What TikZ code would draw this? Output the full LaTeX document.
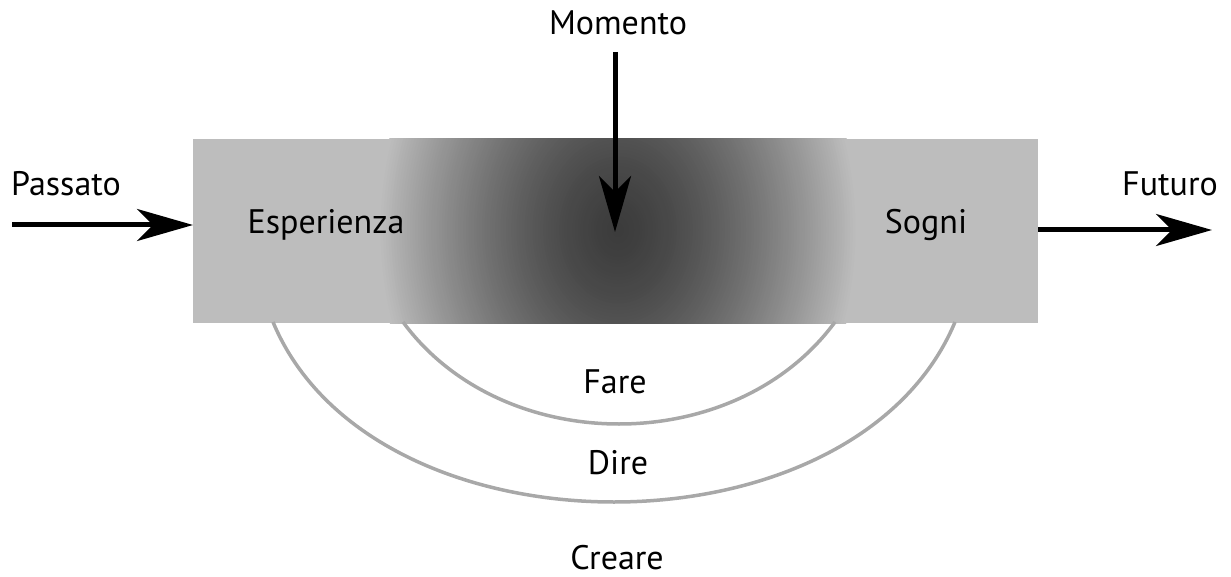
\documentclass[tikz,border=0pt]{standalone}
\usepackage{fontspec}
\setmainfont{PT Sans}
\usetikzlibrary{arrows.meta}
\definecolor{boxgray}{HTML}{BDBDBD}
\definecolor{arcgray}{HTML}{A8A8A8}
\begin{document}
\begin{tikzpicture}[x=1pt,y=-1pt,
  lbl/.style={font=\fontsize{34}{40}\selectfont, anchor=base, inner sep=0pt},
  bigarrow/.style={line width=5pt, -{Stealth[length=56pt,width=32pt,inset=16pt]}},
  arcline/.style={draw=arcgray, line width=3.5pt}]
\useasboundingbox (0,0) rectangle (1231,577);
% main box
\node[fill=boxgray, minimum width=845pt, minimum height=184pt, inner sep=0pt, anchor=north west] (box) at (193,139) {};
\begin{scope}
  \clip (box.south west) rectangle (box.north east);
  \foreach \i in {0,...,89} {
    \pgfmathsetmacro\rr{1-\i/90}
    \pgfmathsetmacro\gg{(60+129*(\rr^1.5))/255}
    \definecolor{tmpc}{gray}{\gg}
    \fill[tmpc] (618,230) ellipse [x radius=240*\rr, y radius=300*\rr];
  }
\end{scope}
% labels
\node[lbl] (momento) at (618,35) {Momento};
\node[lbl] (passato) at (66,196) {Passato};
\node[lbl] (futuro) at (1170,196) {Futuro};
\node[lbl] (esperienza) at (326,234) {Esperienza};
\node[lbl] (sogni) at (926,234) {Sogni};
\node[lbl] (fare) at (615,393) {Fare};
\node[lbl] (dire) at (618,474) {Dire};
\node[lbl] (creare) at (617,569) {Creare};
% arrows
\coordinate (pstart) at (12,225);
\coordinate (mstart) at (615,52);
\coordinate (mend) at (615,232);
\coordinate (fend) at (1212,230);
\draw[bigarrow] (pstart) -- (pstart -| box.west);
\draw[bigarrow] (mstart) -- (mend);
\draw[bigarrow] (fend -| box.east) -- (fend);
% arcs
\coordinate (i1) at (403,322);
\coordinate (i2) at (835,322);
\coordinate (o1) at (273,322);
\coordinate (o2) at (955,322);
\draw[arcline] (i1) .. controls (503,458) and (735,458) .. (i2);
\draw[arcline] (o1) .. controls (373,562) and (855,562) .. (o2);
\end{tikzpicture}
\end{document}
